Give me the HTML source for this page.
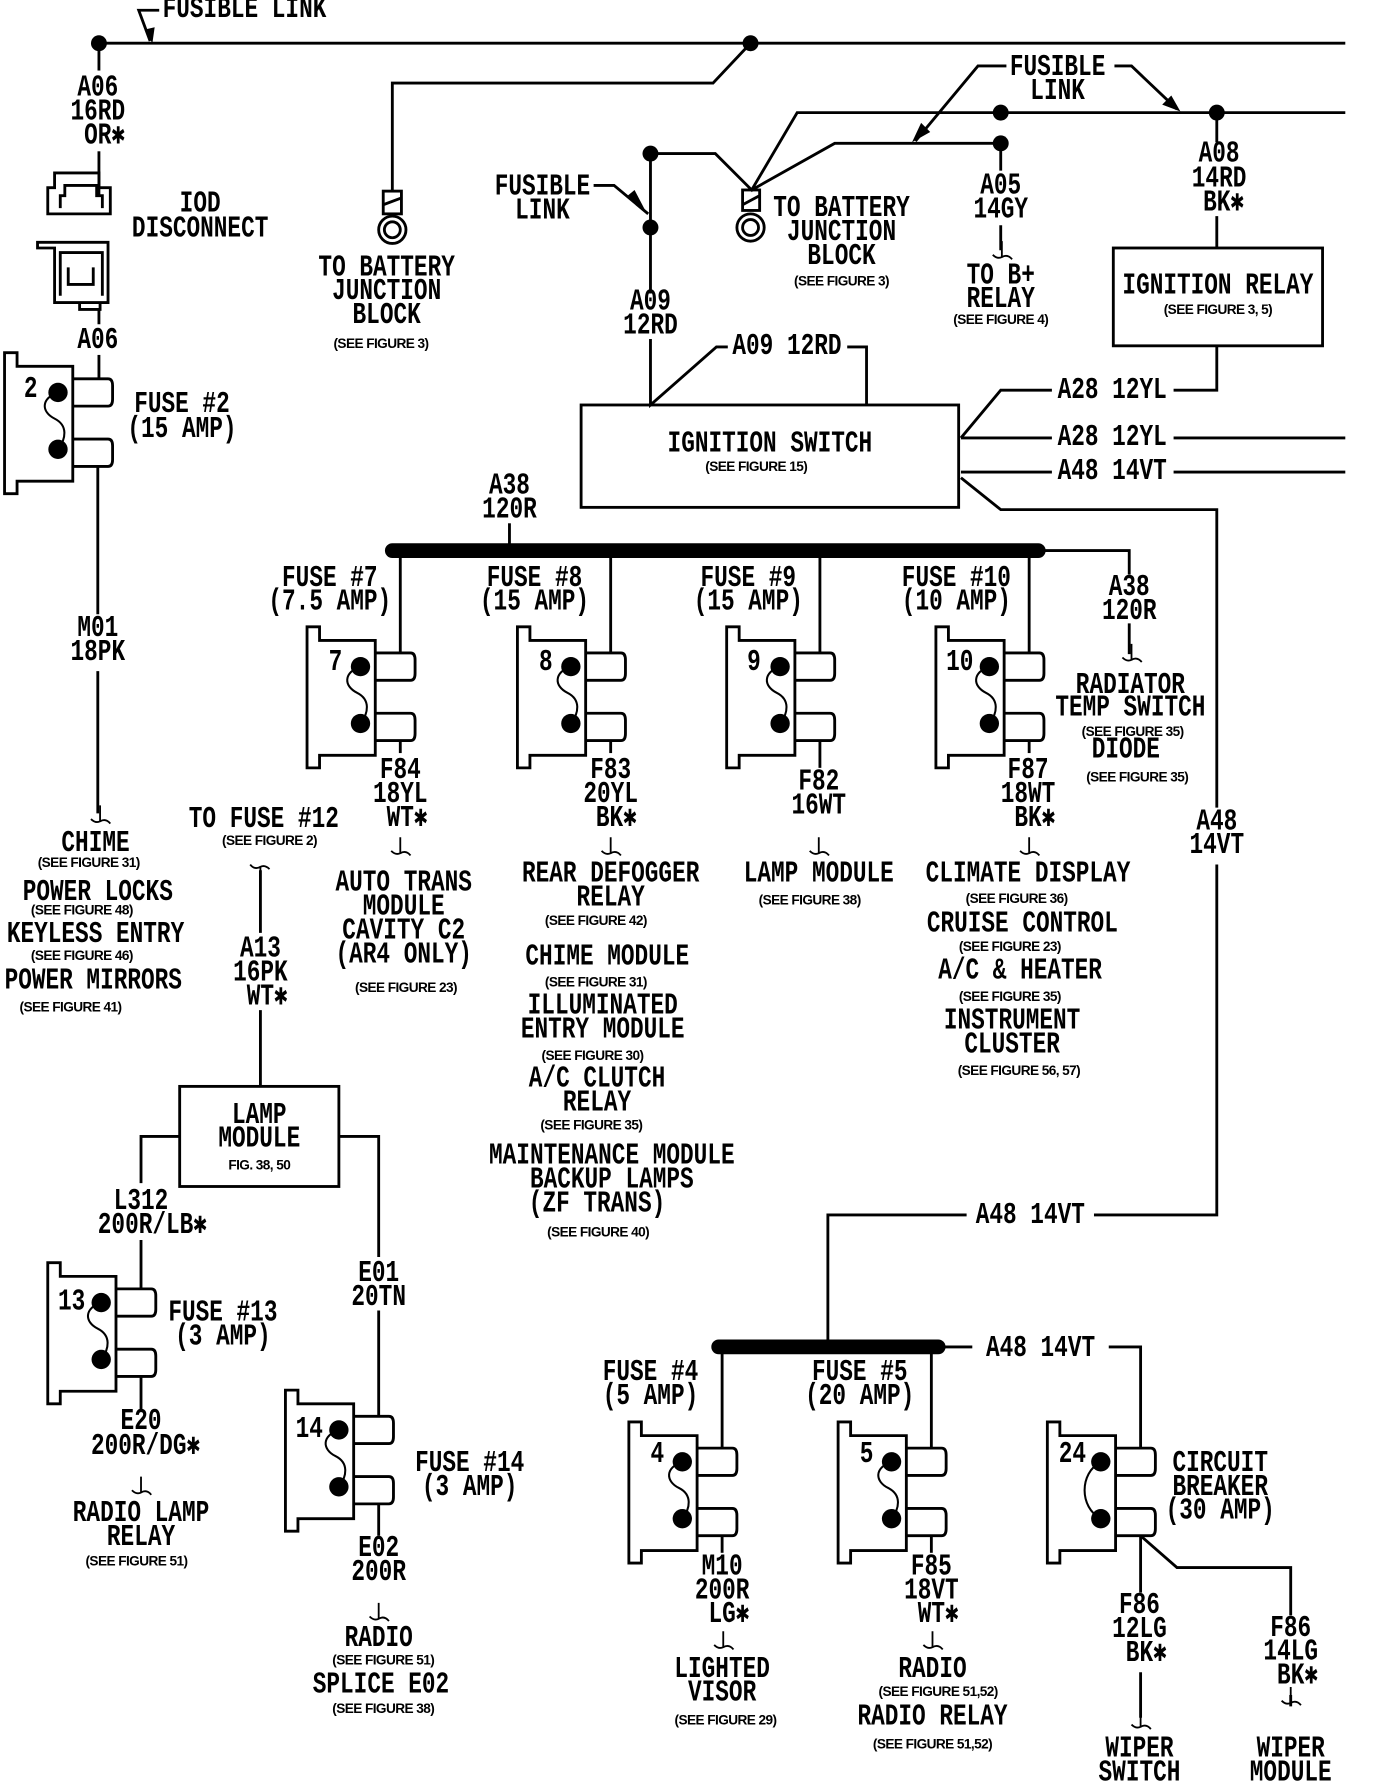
<!DOCTYPE html>
<html><head><meta charset="utf-8"><style>
html,body{margin:0;padding:0;background:#fff}
svg{display:block}
text{font-family:"Liberation Mono",monospace;font-size:20px;fill:#000;text-anchor:middle;font-weight:bold}
text.s{font-family:"Liberation Sans",sans-serif;font-weight:bold;font-size:12px;letter-spacing:-0.5px}
text.l{text-anchor:start}
.w{stroke:#000;stroke-width:2.5;fill:none}
</style></head><body>
<svg width="1376" height="1786" viewBox="0 0 1210 1570" preserveAspectRatio="none" xmlns="http://www.w3.org/2000/svg">
<defs>
<g id="fz">
<path class="w" d="M0,0 H11 V12 H60 V113 H11 V124 H0 Z"/>
<path class="w" d="M60,23 H91 Q95,23 95,29 V41 Q95,47 91,47 H60"/>
<path class="w" d="M60,76 H91 Q95,76 95,82 V94 Q95,100 91,100 H60"/>
<circle cx="47" cy="35" r="8.5"/><circle cx="47" cy="85" r="8.5"/>
<path class="w" style="stroke-width:1.8" d="M47,35 C32,40 32,52 44,58 C56,64 54,76 47,85"/>
</g>
<g id="cb">
<path class="w" d="M0,0 H11 V12 H60 V113 H11 V124 H0 Z"/>
<path class="w" d="M60,23 H91 Q95,23 95,29 V41 Q95,47 91,47 H60"/>
<path class="w" d="M60,76 H91 Q95,76 95,82 V94 Q95,100 91,100 H60"/>
<circle cx="47" cy="35" r="8.5"/><circle cx="47" cy="85" r="8.5"/>
<path class="w" style="stroke-width:1.8" d="M47,35 C28,45 28,75 47,85"/>
</g>
<path id="sq" class="w" style="stroke-width:1.6" d="M0,-14 V0 M-8,-2 Q-4,2 0,0 Q5,-3 9,2"/>
</defs>

<path class="w" d="M87,38 H1183"/>
<circle cx="87" cy="38" r="7"/><circle cx="660" cy="38" r="7"/>
<text class="l" transform="matrix(1 0 0 1.3 143 15)">FUSIBLE LINK</text>
<path class="w" d="M140,9 H122 L132,36"/>
<path d="M127,26 L134,38 L136,24 Z"/>
<path class="w" d="M660,38 L627,73 H345 V168"/>
<rect class="w" x="337" y="168" width="16" height="20"/>
<path class="w" d="M337,180 L353,174"/>
<circle class="w" cx="345" cy="202" r="12"/><circle class="w" cx="345" cy="202" r="7"/>
<text transform="matrix(1 0 0 1.35 340 242)">TO BATTERY</text>
<text transform="matrix(1 0 0 1.35 340 263)">JUNCTION</text>
<text transform="matrix(1 0 0 1.35 340 284)">BLOCK</text>
<text class="s" x="335" y="306">(SEE FIGURE 3)</text>

<path class="w" d="M87,38 V62"/>
<text transform="matrix(1 0 0 1.35 86 84)">A06</text>
<text transform="matrix(1 0 0 1.35 86 105)">16RD</text>
<text transform="matrix(1 0 0 1.35 92 126)">OR✱</text>
<path class="w" d="M87,133 V172"/>
<path class="w" d="M42,188 V165 H48 V152 H87 V165 H97 V188 Z M53,183 V172 H57 V163 H85 V172 H90 V183"/>
<path class="w" d="M33,213 H95 V266 H48 V218 H33 Z M53,260 V222 H90 V260 M60,235 V250 H82 V235"/>
<path class="w" d="M70,266 V272 H88 V266 M87,272 V285"/>
<text transform="matrix(1 0 0 1.35 176 186)">IOD</text>
<text transform="matrix(1 0 0 1.35 176 208)">DISCONNECT</text>
<text transform="matrix(1 0 0 1.35 86 306)">A06</text>
<path class="w" d="M87,312 V333"/>
<use href="#fz" x="4" y="310"/>
<text transform="matrix(1 0 0 1.35 27 349)">2</text>
<text transform="matrix(1 0 0 1.35 160 362)">FUSE #2</text>
<text transform="matrix(1 0 0 1.35 160 384)">(15 AMP)</text>
<path class="w" d="M86,410 V540 M86,590 V715"/>
<text transform="matrix(1 0 0 1.35 86 559)">M01</text>
<text transform="matrix(1 0 0 1.35 86 580)">18PK</text>
<use href="#sq" x="88" y="722"/>
<text transform="matrix(1 0 0 1.35 84 748)">CHIME</text>
<text class="s" x="78" y="762">(SEE FIGURE 31)</text>
<text transform="matrix(1 0 0 1.35 86 791)">POWER LOCKS</text>
<text class="s" x="72" y="804">(SEE FIGURE 48)</text>
<text transform="matrix(1 0 0 1.35 84 828)">KEYLESS ENTRY</text>
<text class="s" x="72" y="844">(SEE FIGURE 46)</text>
<text transform="matrix(1 0 0 1.35 82 869)">POWER MIRRORS</text>
<text class="s" x="62" y="889">(SEE FIGURE 41)</text>

<circle cx="572" cy="135" r="7"/><circle cx="572" cy="200" r="7"/>
<path class="w" d="M572,135 V258 M572,135 H629 L661,167 L701,99 H1183 M661,167 L734,126 H880"/>
<circle cx="880" cy="99" r="7"/><circle cx="1070" cy="99" r="7"/><circle cx="880" cy="126" r="7"/>
<rect class="w" x="653" y="167" width="15" height="18"/>
<path class="w" d="M653,180 L668,172"/>
<circle class="w" cx="660" cy="200" r="12"/><circle class="w" cx="660" cy="200" r="7"/>
<text class="l" transform="matrix(1 0 0 1.35 680 190)">TO BATTERY</text>
<text transform="matrix(1 0 0 1.35 740 211)">JUNCTION</text>
<text transform="matrix(1 0 0 1.35 740 232)">BLOCK</text>
<text class="s" x="740" y="251">(SEE FIGURE 3)</text>
<text transform="matrix(1 0 0 1.35 477 171)">FUSIBLE</text>
<text transform="matrix(1 0 0 1.35 477 192)">LINK</text>
<path class="w" d="M522,163 H540 L570,188"/>
<path d="M552,172 L569,188 L558,167 Z"/>
<text transform="matrix(1 0 0 1.35 930 66)">FUSIBLE</text>
<text transform="matrix(1 0 0 1.35 930 87)">LINK</text>
<path class="w" d="M885,58 H860 L805,124 M980,58 H995 L1035,96"/>
<path d="M802,125 L810,108 L818,116 Z"/>
<path d="M1038,98 L1022,92 L1030,84 Z"/>
<path class="w" d="M880,126 V150 M880,198 V220"/>
<text transform="matrix(1 0 0 1.35 880 170)">A05</text>
<text transform="matrix(1 0 0 1.35 880 191)">14GY</text>
<use href="#sq" x="881" y="226"/>
<text transform="matrix(1 0 0 1.35 880 249)">TO B+</text>
<text transform="matrix(1 0 0 1.35 880 270)">RELAY</text>
<text class="s" x="880" y="285">(SEE FIGURE 4)</text>
<path class="w" d="M1070,99 V125 M1070,190 V218"/>
<text transform="matrix(1 0 0 1.35 1072 142)">A08</text>
<text transform="matrix(1 0 0 1.35 1072 164)">14RD</text>
<text transform="matrix(1 0 0 1.35 1076 185)">BK✱</text>
<rect class="w" x="979" y="218" width="184" height="86"/>
<text transform="matrix(1 0 0 1.35 1071 258)">IGNITION RELAY</text>
<text class="s" x="1071" y="276">(SEE FIGURE 3, 5)</text>
<path class="w" d="M1070,304 V343 H1032 M925,343 H880 L845,385"/>
<text transform="matrix(1 0 0 1.35 978 350)">A28 12YL</text>
<path class="w" d="M845,385 H925 M1032,385 H1183"/>
<text transform="matrix(1 0 0 1.35 978 391)">A28 12YL</text>
<path class="w" d="M845,415 H925 M1032,415 H1183"/>
<text transform="matrix(1 0 0 1.35 978 421)">A48 14VT</text>
<path class="w" d="M845,420 L880,448 H1070 V710 M1070,760 V1068 H962 M850,1068 H728 V1184"/>
<text transform="matrix(1 0 0 1.35 1070 729)">A48</text>
<text transform="matrix(1 0 0 1.35 1070 750)">14VT</text>
<text transform="matrix(1 0 0 1.35 906 1075)">A48 14VT</text>

<text transform="matrix(1 0 0 1.35 572 272)">A09</text>
<text transform="matrix(1 0 0 1.35 572 293)">12RD</text>
<path class="w" d="M572,298 V356 L630,305 H640 M745,305 H762 V356"/>
<text transform="matrix(1 0 0 1.35 692 311)">A09 12RD</text>
<rect class="w" x="511" y="356" width="332" height="90"/>
<text transform="matrix(1 0 0 1.35 677 397)">IGNITION SWITCH</text>
<text class="s" x="665" y="414">(SEE FIGURE 15)</text>
<text transform="matrix(1 0 0 1.35 448 434)">A38</text>
<text transform="matrix(1 0 0 1.35 448 455)">120R</text>
<path class="w" d="M448,460 V484"/>
<path d="M345,484 H913" stroke="#000" stroke-width="13" stroke-linecap="round"/>
<path class="w" d="M913,484 H993 V505 M993,548 V575"/>
<text transform="matrix(1 0 0 1.35 993 523)">A38</text>
<text transform="matrix(1 0 0 1.35 993 544)">120R</text>
<use href="#sq" x="995" y="580"/>
<text transform="matrix(1 0 0 1.35 994 609)">RADIATOR</text>
<text transform="matrix(1 0 0 1.35 994 629)">TEMP SWITCH</text>
<text class="s" x="996" y="647">(SEE FIGURE 35)</text>
<text transform="matrix(1 0 0 1.35 990 666)">DIODE</text>
<text class="s" x="1000" y="687">(SEE FIGURE 35)</text>

<text transform="matrix(1 0 0 1.35 290 515)">FUSE #7</text>
<text transform="matrix(1 0 0 1.35 290 536)">(7.5 AMP)</text>
<path class="w" d="M352,484 V574"/>
<use href="#fz" x="270" y="551"/>
<text transform="matrix(1 0 0 1.35 295 589)">7</text>
<path class="w" d="M352,651 V662"/>
<text transform="matrix(1 0 0 1.35 352 684)">F84</text>
<text transform="matrix(1 0 0 1.35 352 705)">18YL</text>
<text transform="matrix(1 0 0 1.35 358 726)">WT✱</text>
<use href="#sq" x="352" y="750"/>
<text transform="matrix(1 0 0 1.35 355 783)">AUTO TRANS</text>
<text transform="matrix(1 0 0 1.35 355 804)">MODULE</text>
<text transform="matrix(1 0 0 1.35 355 825)">CAVITY C2</text>
<text transform="matrix(1 0 0 1.35 355 846)">(AR4 ONLY)</text>
<text class="s" x="357" y="872">(SEE FIGURE 23)</text>

<text transform="matrix(1 0 0 1.35 470 515)">FUSE #8</text>
<text transform="matrix(1 0 0 1.35 470 536)">(15 AMP)</text>
<path class="w" d="M537,484 V574"/>
<use href="#fz" x="455" y="551"/>
<text transform="matrix(1 0 0 1.35 480 589)">8</text>
<path class="w" d="M537,651 V662"/>
<text transform="matrix(1 0 0 1.35 537 684)">F83</text>
<text transform="matrix(1 0 0 1.35 537 705)">20YL</text>
<text transform="matrix(1 0 0 1.35 542 726)">BK✱</text>
<use href="#sq" x="537" y="750"/>
<text transform="matrix(1 0 0 1.35 537 775)">REAR DEFOGGER</text>
<text transform="matrix(1 0 0 1.35 537 796)">RELAY</text>
<text class="s" x="524" y="813">(SEE FIGURE 42)</text>
<text transform="matrix(1 0 0 1.35 534 848)">CHIME MODULE</text>
<text class="s" x="524" y="867">(SEE FIGURE 31)</text>
<text transform="matrix(1 0 0 1.35 530 891)">ILLUMINATED</text>
<text transform="matrix(1 0 0 1.35 530 912)">ENTRY MODULE</text>
<text class="s" x="521" y="932">(SEE FIGURE 30)</text>
<text transform="matrix(1 0 0 1.35 525 955)">A/C CLUTCH</text>
<text transform="matrix(1 0 0 1.35 525 976)">RELAY</text>
<text class="s" x="520" y="993">(SEE FIGURE 35)</text>
<text transform="matrix(1 0 0 1.35 538 1023)">MAINTENANCE MODULE</text>
<text transform="matrix(1 0 0 1.35 538 1044)">BACKUP LAMPS</text>
<text transform="matrix(1 0 0 1.35 525 1065)">(ZF TRANS)</text>
<text class="s" x="526" y="1087">(SEE FIGURE 40)</text>

<text transform="matrix(1 0 0 1.35 658 515)">FUSE #9</text>
<text transform="matrix(1 0 0 1.35 658 536)">(15 AMP)</text>
<path class="w" d="M721,484 V574"/>
<use href="#fz" x="639" y="551"/>
<text transform="matrix(1 0 0 1.35 663 589)">9</text>
<path class="w" d="M721,651 V675"/>
<text transform="matrix(1 0 0 1.35 720 694)">F82</text>
<text transform="matrix(1 0 0 1.35 720 715)">16WT</text>
<use href="#sq" x="720" y="750"/>
<text transform="matrix(1 0 0 1.35 720 775)">LAMP MODULE</text>
<text class="s" x="712" y="795">(SEE FIGURE 38)</text>

<text transform="matrix(1 0 0 1.35 841 515)">FUSE #10</text>
<text transform="matrix(1 0 0 1.35 841 536)">(10 AMP)</text>
<path class="w" d="M905,484 V574"/>
<use href="#fz" x="823" y="551"/>
<text transform="matrix(1 0 0 1.35 844 589)">10</text>
<path class="w" d="M905,651 V662"/>
<text transform="matrix(1 0 0 1.35 904 684)">F87</text>
<text transform="matrix(1 0 0 1.35 904 705)">18WT</text>
<text transform="matrix(1 0 0 1.35 910 726)">BK✱</text>
<use href="#sq" x="905" y="750"/>
<text transform="matrix(1 0 0 1.35 904 775)">CLIMATE DISPLAY</text>
<text class="s" x="894" y="794">(SEE FIGURE 36)</text>
<text transform="matrix(1 0 0 1.35 899 819)">CRUISE CONTROL</text>
<text class="s" x="888" y="836">(SEE FIGURE 23)</text>
<text transform="matrix(1 0 0 1.35 897 860)">A/C &amp; HEATER</text>
<text class="s" x="888" y="880">(SEE FIGURE 35)</text>
<text transform="matrix(1 0 0 1.35 890 904)">INSTRUMENT</text>
<text transform="matrix(1 0 0 1.35 890 925)">CLUSTER</text>
<text class="s" x="896" y="945">(SEE FIGURE 56, 57)</text>

<text transform="matrix(1 0 0 1.35 232 727)">TO FUSE #12</text>
<text class="s" x="237" y="743">(SEE FIGURE 2)</text>
<use href="#sq" x="229" y="762" transform="rotate(180 229 762)"/>
<path class="w" d="M229,765 V820 M229,888 V955"/>
<text transform="matrix(1 0 0 1.35 229 841)">A13</text>
<text transform="matrix(1 0 0 1.35 229 862)">16PK</text>
<text transform="matrix(1 0 0 1.35 235 883)">WT✱</text>
<rect class="w" x="158" y="955" width="140" height="88"/>
<text transform="matrix(1 0 0 1.35 228 987)">LAMP</text>
<text transform="matrix(1 0 0 1.35 228 1008)">MODULE</text>
<text class="s" x="228" y="1028">FIG. 38, 50</text>
<path class="w" d="M158,999 H124 V1040 M124,1090 V1133 M298,999 H333 V1105 M333,1152 V1245"/>
<text transform="matrix(1 0 0 1.35 124 1063)">L312</text>
<text transform="matrix(1 0 0 1.35 134 1084)">200R/LB✱</text>
<use href="#fz" x="42" y="1110"/>
<text transform="matrix(1 0 0 1.35 63 1151)">13</text>
<text transform="matrix(1 0 0 1.35 196 1161)">FUSE #13</text>
<text transform="matrix(1 0 0 1.35 196 1182)">(3 AMP)</text>
<path class="w" d="M124,1210 V1240"/>
<text transform="matrix(1 0 0 1.35 124 1256)">E20</text>
<text transform="matrix(1 0 0 1.35 128 1278)">200R/DG✱</text>
<use href="#sq" x="124" y="1312"/>
<text transform="matrix(1 0 0 1.35 124 1337)">RADIO LAMP</text>
<text transform="matrix(1 0 0 1.35 124 1358)">RELAY</text>
<text class="s" x="120" y="1376">(SEE FIGURE 51)</text>
<text transform="matrix(1 0 0 1.35 333 1126)">E01</text>
<text transform="matrix(1 0 0 1.35 333 1147)">20TN</text>
<use href="#fz" x="251" y="1222"/>
<text transform="matrix(1 0 0 1.35 272 1263)">14</text>
<text transform="matrix(1 0 0 1.35 413 1293)">FUSE #14</text>
<text transform="matrix(1 0 0 1.35 413 1314)">(3 AMP)</text>
<path class="w" d="M333,1322 V1350"/>
<text transform="matrix(1 0 0 1.35 333 1368)">E02</text>
<text transform="matrix(1 0 0 1.35 333 1389)">200R</text>
<use href="#sq" x="333" y="1423"/>
<text transform="matrix(1 0 0 1.35 333 1447)">RADIO</text>
<text class="s" x="337" y="1463">(SEE FIGURE 51)</text>
<text transform="matrix(1 0 0 1.35 335 1488)">SPLICE E02</text>
<text class="s" x="337" y="1506">(SEE FIGURE 38)</text>

<path d="M632,1184 H825" stroke="#000" stroke-width="13" stroke-linecap="round"/>
<path class="w" d="M825,1184 H855 M975,1184 H1003 V1273"/>
<text transform="matrix(1 0 0 1.35 915 1192)">A48 14VT</text>
<text transform="matrix(1 0 0 1.35 572 1213)">FUSE #4</text>
<text transform="matrix(1 0 0 1.35 572 1234)">(5 AMP)</text>
<path class="w" d="M635,1184 V1273"/>
<use href="#fz" x="553" y="1250"/>
<text transform="matrix(1 0 0 1.35 578 1285)">4</text>
<path class="w" d="M635,1350 V1365"/>
<text transform="matrix(1 0 0 1.35 635 1384)">M10</text>
<text transform="matrix(1 0 0 1.35 635 1405)">200R</text>
<text transform="matrix(1 0 0 1.35 641 1426)">LG✱</text>
<use href="#sq" x="636" y="1448"/>
<text transform="matrix(1 0 0 1.35 635 1474)">LIGHTED</text>
<text transform="matrix(1 0 0 1.35 635 1495)">VISOR</text>
<text class="s" x="638" y="1516">(SEE FIGURE 29)</text>
<text transform="matrix(1 0 0 1.35 756 1213)">FUSE #5</text>
<text transform="matrix(1 0 0 1.35 756 1234)">(20 AMP)</text>
<path class="w" d="M819,1184 V1273"/>
<use href="#fz" x="737" y="1250"/>
<text transform="matrix(1 0 0 1.35 762 1285)">5</text>
<path class="w" d="M819,1350 V1365"/>
<text transform="matrix(1 0 0 1.35 819 1384)">F85</text>
<text transform="matrix(1 0 0 1.35 819 1405)">18VT</text>
<text transform="matrix(1 0 0 1.35 825 1426)">WT✱</text>
<use href="#sq" x="820" y="1448"/>
<text transform="matrix(1 0 0 1.35 820 1474)">RADIO</text>
<text class="s" x="825" y="1491">(SEE FIGURE 51,52)</text>
<text transform="matrix(1 0 0 1.35 820 1516)">RADIO RELAY</text>
<text class="s" x="820" y="1537">(SEE FIGURE 51,52)</text>
<use href="#cb" x="921" y="1250"/>
<text transform="matrix(1 0 0 1.35 943 1285)">24</text>
<text transform="matrix(1 0 0 1.35 1073 1293)">CIRCUIT</text>
<text transform="matrix(1 0 0 1.35 1073 1314)">BREAKER</text>
<text transform="matrix(1 0 0 1.35 1073 1335)">(30 AMP)</text>
<path class="w" d="M1003,1350 V1400 M1003,1350 L1035,1378 H1135 V1420 M1003,1470 V1510 M1135,1490 V1500"/>
<text transform="matrix(1 0 0 1.35 1002 1418)">F86</text>
<text transform="matrix(1 0 0 1.35 1002 1439)">12LG</text>
<text transform="matrix(1 0 0 1.35 1008 1460)">BK✱</text>
<use href="#sq" x="1003" y="1518"/>
<text transform="matrix(1 0 0 1.35 1002 1544)">WIPER</text>
<text transform="matrix(1 0 0 1.35 1002 1565)">SWITCH</text>
<text transform="matrix(1 0 0 1.35 1135 1438)">F86</text>
<text transform="matrix(1 0 0 1.35 1135 1459)">14LG</text>
<text transform="matrix(1 0 0 1.35 1141 1480)">BK✱</text>
<use href="#sq" x="1135" y="1497"/>
<text transform="matrix(1 0 0 1.35 1135 1544)">WIPER</text>
<text transform="matrix(1 0 0 1.35 1135 1565)">MODULE</text>
</svg>
</body></html>
